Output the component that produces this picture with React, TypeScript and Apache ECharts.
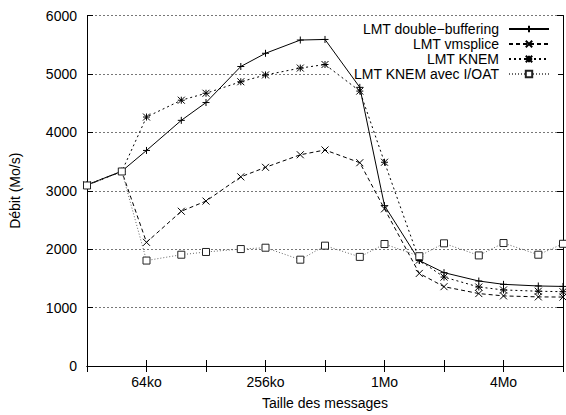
import React, { useEffect, useRef } from "react";
import * as echarts from "echarts";

const sizesKo = [32, 48, 64, 96, 128, 192, 256, 384, 512, 768, 1024, 1536, 2048, 3072, 4096, 6144, 8192];
const doubleBuffering = [3100, 3335, 3690, 4205, 4510, 5127, 5353, 5580, 5590, 4770, 2745, 1805, 1598, 1455, 1398, 1370, 1362];
const vmsplice = [3095, 3330, 2117, 2649, 2823, 3238, 3401, 3616, 3698, 3480, 2690, 1585, 1358, 1240, 1200, 1183, 1180];
const knem = [3100, 3330, 4262, 4550, 4669, 4866, 4982, 5100, 5161, 4706, 3488, 1812, 1522, 1352, 1302, 1280, 1272];
const knemIoat = [3090, 3330, 1805, 1905, 1952, 2002, 2025, 1820, 2060, 1868, 2088, 1880, 2100, 1893, 2105, 1905, 2092];
const seriesNames = ["LMT double\u2212buffering", "LMT vmsplice", "LMT KNEM", "LMT KNEM avec I/OAT"];
const xTickLabels: Record<number, string> = { 64: "64ko", 256: "256ko", 1024: "1Mo", 4096: "4Mo" };
const yMin = 0;
const yMax = 6000;
const yStep = 1000;

const FONT = "Liberation Sans";
const plusPath = "path://M0,5L10,5M5,0L5,10";
const crossPath = "path://M0,0L10,10M0,10L10,0";
const starPath = "path://M0,0L10,10M0,10L10,0M5,0L5,10M0,5L10,5";

export default function App() {
  const ref = useRef<HTMLDivElement>(null);
  useEffect(() => {
    if (!ref.current) return;
    const chart = echarts.init(ref.current, undefined, { renderer: "svg" });
    const pts = (vals: number[]) => sizesKo.map((s, i) => [s, vals[i]]);
    const xBase = {
      type: "log" as const,
      logBase: 2,
      min: 32,
      max: 8192,
      splitNumber: 8,
      axisLine: { show: true, lineStyle: { color: "#000", width: 1 } },
      axisTick: { show: true, inside: true, length: 6, lineStyle: { color: "#000" } },
      splitLine: { show: false },
      minorTick: { show: false },
    };
    const mk = (
      name: string,
      vals: number[],
      symbol: string,
      lineColor: string,
      dash: any,
      symColor: string,
      fill: string
    ) => ({
      name,
      type: "line",
      data: pts(vals),
      symbol,
      symbolSize: 7,
      showSymbol: true,
      lineStyle: { color: lineColor, width: 1, type: dash },
      itemStyle: { color: fill, borderColor: symColor, borderWidth: 1 },
      emphasis: { disabled: true },
      z: 2,
    });
    chart.setOption({
      animation: false,
      backgroundColor: "#fff",
      textStyle: { fontFamily: FONT },
      grid: { left: 84, right: -2.5, top: 15.5, bottom: 46 },
      legend: {
        orient: "vertical",
        align: "right",
        right: 8,
        top: 20,
        itemWidth: 40,
        itemHeight: 8,
        itemGap: 1,
        backgroundColor: "#fff",
        padding: [2, 8, 2, 24],
        selectedMode: false,
        z: 1,
        textStyle: { fontFamily: FONT, fontSize: 14, color: "#000", lineHeight: 14, padding: [0, 5, 0, 0] },
        data: seriesNames,
      },
      xAxis: [
        {
          ...xBase,
          position: "bottom",
          name: "Taille des messages",
          nameLocation: "middle",
          nameGap: 30,
          nameTextStyle: { fontFamily: FONT, fontSize: 14, color: "#000" },
          axisLabel: {
            show: true,
            margin: 9,
            fontFamily: FONT,
            fontSize: 14,
            color: "#000",
            formatter: (v: number) => xTickLabels[Math.round(v)] ?? "",
          },
        },
        { ...xBase, position: "top", axisLabel: { show: false } },
      ],
      yAxis: [
        {
          type: "value",
          min: yMin,
          max: yMax,
          interval: yStep,
          position: "left",
          name: "D\u00e9bit (Mo/s)",
          nameLocation: "middle",
          nameGap: 65,
          nameTextStyle: { fontFamily: FONT, fontSize: 14, color: "#000" },
          axisLine: { show: true, lineStyle: { color: "#000", width: 1 } },
          axisTick: { show: true, inside: true, length: 6, lineStyle: { color: "#000" } },
          axisLabel: {
            margin: 10,
            fontFamily: FONT,
            fontSize: 14,
            color: "#000",
            formatter: (v: number) => String(Math.round(v)),
          },
          splitLine: { show: true, lineStyle: { color: "#777", width: 1, type: [2, 2] } },
        },
        {
          type: "value",
          min: yMin,
          max: yMax,
          interval: yStep,
          position: "right",
          axisLine: { show: true, lineStyle: { color: "#000", width: 1 } },
          axisTick: { show: true, inside: true, length: 6, lineStyle: { color: "#000" } },
          axisLabel: { show: false },
          splitLine: { show: false },
        },
      ],
      series: [
        mk(seriesNames[0], doubleBuffering, plusPath, "#000", "solid", "#000", "#000"),
        mk(seriesNames[1], vmsplice, crossPath, "#000", [4, 3], "#000", "#000"),
        mk(seriesNames[2], knem, starPath, "#000", [2, 3], "#000", "#000"),
        mk(seriesNames[3], knemIoat, "rect", "#666", [1, 2], "#222", "#fff"),
      ],
    });
    return () => chart.dispose();
  }, []);
  return (
    <div
      ref={ref}
      style={{ position: "fixed", left: 0, top: 0, width: 566, height: 415, background: "#fff" }}
    />
  );
}
